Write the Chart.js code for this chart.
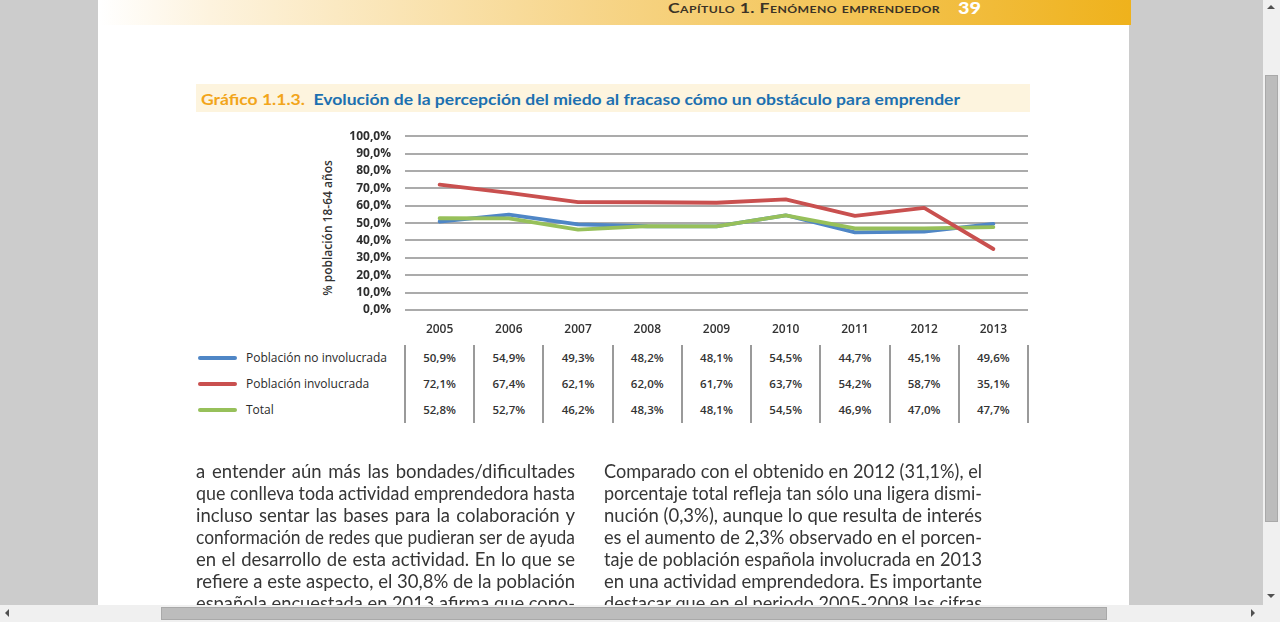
<!DOCTYPE html>
<html><head><meta charset="utf-8">
<script src="https://cdn.jsdelivr.net/npm/chart.js@4.4.1/dist/chart.umd.min.js"></script>
<style>
html,body{margin:0;padding:0;width:1280px;height:622px;overflow:hidden;background:#cccccc;font-family:Lato,"Open Sans",sans-serif;}
.abs{position:absolute;}
#page{position:absolute;left:98px;top:0;width:1031px;height:605px;background:#fff;overflow:hidden;}
#header{position:absolute;left:100px;top:0;width:1031px;height:25px;background:linear-gradient(to right,#ffffff 0px,#fdf3de 110px,#f7d68c 480px,#efb21c 1031px);}
.fit{position:absolute;white-space:nowrap;transform-origin:0 50%;}
#vscroll{position:absolute;left:1263px;top:0;width:17px;height:605px;background:#f0f0f0;}
#hscroll{position:absolute;left:0;top:605px;width:1280px;height:17px;background:#f0f0f0;}
.thumb{position:absolute;background:#bcbcbc;border:1px solid #a9a9a9;box-sizing:border-box;}
.cell{position:absolute;width:69px;text-align:center;font-family:"Open Sans",sans-serif;font-size:11.5px;font-weight:600;color:#333;line-height:14px;}
.sep{position:absolute;width:2px;background:#9a9a9a;top:345px;height:78px;}
.leg{position:absolute;left:198px;width:39px;height:4px;border-radius:2px;}
.legt{position:absolute;left:246px;font-family:"Open Sans",sans-serif;font-size:12px;color:#2a2a2a;line-height:14px;white-space:nowrap;}
.body{position:absolute;white-space:nowrap;font-family:Lato,sans-serif;font-size:18.5px;color:#363636;line-height:20px;}
</style></head>
<body>
<div id="page"></div>
<div id="header"></div>
<div class="fit" id="hdrtxt" data-w="272" style="left:668px;top:0px;height:17px;line-height:17px;font-family:Lato,sans-serif;font-size:13px;font-weight:700;color:#3b3326;font-variant:small-caps;letter-spacing:0.3px;">Capítulo 1. Fenómeno emprendedor</div>
<div class="fit" id="pgnum" data-w="23" style="left:958px;top:-2px;height:20px;line-height:20px;font-family:Lato,sans-serif;font-size:17px;font-weight:900;color:#ffffff;">39</div>

<div class="abs" style="left:196px;top:84px;width:834px;height:28px;background:#fdf4de;"></div>
<div class="fit" id="title" data-w="759" style="left:201px;top:90px;height:18px;line-height:18px;font-family:Lato,sans-serif;font-size:15px;font-weight:700;"><span style="color:#f2a51a;">Gráfico 1.1.3.</span>&nbsp; <span style="color:#1c70b0;">Evolución de la percepción del miedo al fracaso cómo un obstáculo para emprender</span></div>

<div class="fit" id="ytitle" style="left:327px;top:228px;font-family:'Open Sans',sans-serif;font-size:12px;font-weight:600;color:#333;transform:translate(-50%,-50%) rotate(-90deg);transform-origin:50% 50%;">% población 18-64 años</div>

<div class="abs" style="left:300px;top:115px;width:740px;height:226px;"><canvas id="c" width="740" height="226"></canvas></div>

<div id="table"></div>

<div id="bodytext"></div>

<div id="vscroll">
  <div class="abs" style="left:4px;top:5px;width:0;height:0;border-left:4px solid transparent;border-right:4px solid transparent;border-bottom:4px solid #505050;"></div>
  <div class="thumb" style="left:2px;top:75px;width:13px;height:447px;"></div>
  <div class="abs" style="left:4px;top:594px;width:0;height:0;border-left:4px solid transparent;border-right:4px solid transparent;border-top:4px solid #505050;"></div>
</div>
<div id="hscroll">
  <div class="abs" style="left:5px;top:4px;width:0;height:0;border-top:4px solid transparent;border-bottom:4px solid transparent;border-right:4px solid #505050;"></div>
  <div class="thumb" style="left:161px;top:2px;width:946px;height:13px;"></div>
  <div class="abs" style="left:1251px;top:4px;width:0;height:0;border-top:4px solid transparent;border-bottom:4px solid transparent;border-left:4px solid #505050;"></div>
</div>

<script>
const years = ['2005','2006','2007','2008','2009','2010','2011','2012','2013'];
const noInvolucrada = [50.9,54.9,49.3,48.2,48.1,54.5,44.7,45.1,49.6];
const involucrada = [72.1,67.4,62.1,62.0,61.7,63.7,54.2,58.7,35.1];
const total = [52.8,52.7,46.2,48.3,48.1,54.5,46.9,47.0,47.7];
const seriesNames = ['Población no involucrada','Población involucrada','Total'];
const seriesColors = ['#4f86c6','#c9504f','#97c05a'];
const yTicks = [0,10,20,30,40,50,60,70,80,90,100];

const bodyLeft = [
 'a entender aún más las bondades/dificultades',
 'que conlleva toda actividad emprendedora hasta',
 'incluso sentar las bases para la colaboración y',
 'conformación de redes que pudieran ser de ayuda',
 'en el desarrollo de esta actividad. En lo que se',
 'refiere a este aspecto, el 30,8% de la población',
 'española encuestada en 2013 afirma que cono-'
];
const bodyRight = [
 'Comparado con el obtenido en 2012 (31,1%), el',
 'porcentaje total refleja tan sólo una ligera dismi-',
 'nución (0,3%), aunque lo que resulta de interés',
 'es el aumento de 2,3% observado en el porcen-',
 'taje de población española involucrada en 2013',
 'en una actividad emprendedora. Es importante',
 'destacar que en el periodo 2005-2008 las cifras'
];

const fmt = v => v.toFixed(1).replace('.', ',') + '%';

const chart = new Chart(document.getElementById('c'), {
  type: 'line',
  data: {
    labels: years,
    datasets: [
      {label: seriesNames[0], data: noInvolucrada, borderColor: seriesColors[0], order: 2},
      {label: seriesNames[1], data: involucrada, borderColor: seriesColors[1], order: 0},
      {label: seriesNames[2], data: total, borderColor: seriesColors[2], order: 1}
    ].map(d => Object.assign(d, {borderWidth: 3.8, pointRadius: 0, tension: 0, fill: false, borderCapStyle: 'round', borderJoinStyle: 'round'}))
  },
  options: {
    responsive: false,
    animation: false,
    events: [],
    layout: {padding: {top: 8, right: 12, left: 0, bottom: 0}},
    plugins: {legend: {display: false}, tooltip: {enabled: false}},
    scales: {
      x: {
        offset: true,
        grid: {display: false, drawTicks: false},
        border: {display: false},
        ticks: {padding: 12, color: '#333', font: {family: 'Open Sans', size: 12, weight: '600'}},
        afterFit: s => { s.height = 31; }
      },
      y: {
        min: 0, max: 100,
        afterBuildTicks: s => { s.ticks = yTicks.map(v => ({value: v})); },
        grid: {color: '#ababab', lineWidth: 2, drawTicks: false},
        border: {display: false},
        ticks: {autoSkip: false, padding: 14, color: '#2e2e2e', font: {family: 'Open Sans', size: 12, weight: '700'}, callback: v => fmt(v)},
        afterFit: s => { s.width = 105; }
      }
    }
  }
});

// Data table under the chart, aligned to the chart's x scale
(function(){
  const t = document.getElementById('table');
  const xs = chart.scales.x;
  const canvasLeft = 300;
  const rowsY = [351, 377, 403];
  const series = [noInvolucrada, involucrada, total];
  let html = '';
  series.forEach((arr, r) => {
    html += `<div class="leg" style="top:${rowsY[r]+5}px;background:${seriesColors[r]};"></div>`;
    html += `<div class="legt" style="top:${rowsY[r]}px;">${seriesNames[r]}</div>`;
    arr.forEach((v, i) => {
      const cx = canvasLeft + xs.getPixelForValue(i);
      html += `<div class="cell" style="left:${cx-34.5}px;top:${rowsY[r]}px;">${fmt(v)}</div>`;
    });
  });
  const step = xs.getPixelForValue(1) - xs.getPixelForValue(0);
  for (let i = 0; i <= years.length; i++) {
    const x = canvasLeft + xs.getPixelForValue(0) - step/2 + i*step;
    html += `<div class="sep" style="left:${x-1}px;"></div>`;
  }
  t.innerHTML = html;
})();

// Body text columns, justified line by line
(function(){
  const b = document.getElementById('bodytext');
  let html = '';
  bodyLeft.forEach((l, i) => { html += `<div class="body jl" data-w="379" style="left:196px;top:${461+i*22}px;">${l}</div>`; });
  bodyRight.forEach((l, i) => { html += `<div class="body jl" data-w="378" style="left:604px;top:${461+i*22}px;">${l}</div>`; });
  b.innerHTML = html;
  document.querySelectorAll('.jl').forEach(el => {
    const target = +el.dataset.w;
    const w = el.getBoundingClientRect().width;
    const n = (el.textContent.match(/ /g) || []).length;
    if (w < target && n > 0) el.style.wordSpacing = ((target - w) / n) + 'px';
    else if (w > target) { el.style.transformOrigin = '0 50%'; el.style.transform = `scaleX(${target / w})`; }
  });
  b.style.position = 'absolute'; b.style.left = '0'; b.style.top = '0'; b.style.width = '1280px'; b.style.height = '605px'; b.style.overflow = 'hidden';
})();

document.querySelectorAll('.fit[data-w]').forEach(el => {
  const target = +el.dataset.w;
  const w = el.getBoundingClientRect().width;
  el.style.transform = `scaleX(${target / w})`;
});
</script>
</body></html>
